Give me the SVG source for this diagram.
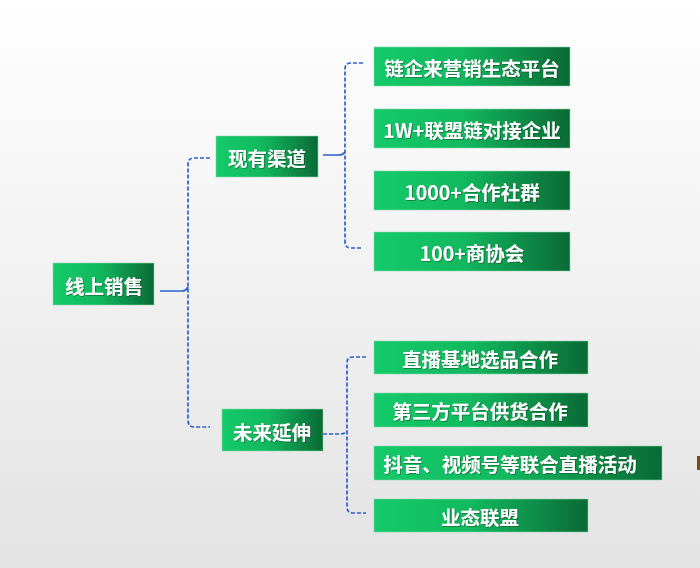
<svg xmlns="http://www.w3.org/2000/svg" width="700" height="568" viewBox="0 0 700 568">
<defs>
<linearGradient id="bg" x1="0" y1="0" x2="0" y2="1">
<stop offset="0" stop-color="#ffffff"/>
<stop offset="1" stop-color="#e3e3e3"/>
</linearGradient>
<linearGradient id="box" x1="0" y1="0" x2="1" y2="0">
<stop offset="0" stop-color="#14ca6a"/>
<stop offset="0.45" stop-color="#12b95f"/>
<stop offset="1" stop-color="#0a6a35"/>
</linearGradient>
<filter id="ts" x="-10%" y="-20%" width="120%" height="140%">
<feDropShadow dx="0.8" dy="0.8" stdDeviation="0.5" flood-color="#0a3a1e" flood-opacity="0.6"/>
</filter>
</defs>
<style>
.b{fill:url(#box);stroke:#8ad9ad;stroke-width:0.8;stroke-opacity:0.7}
.t{fill:#ffffff;font-family:"Noto Sans CJK SC","Noto Sans",sans-serif;font-weight:bold;font-size:19.5px;text-anchor:middle;dominant-baseline:central;filter:url(#ts)}
.c{fill:none;stroke:#2a5fd0;stroke-width:1.7}
.d{stroke-dasharray:4,2}
</style>
<rect width="700" height="568" fill="url(#bg)"/>
<g id="connectors">
<path class="c" d="M160,291 H182 Q186,291 188,287"/>
<path class="c d" d="M210,158 H194 Q188,158 188,164 V420 Q188,427 194,427 H210"/>
<path class="c" d="M323,155 H339 Q343,155 345,152"/>
<path class="c d" d="M363,63 H351 Q345,63 345,69 V242 Q345,248 351,248 H363"/>
<path class="c d" d="M323,434 H341 Q345,434 347,431"/>
<path class="c d" d="M366,357 H353 Q347,357 347,363 V507 Q347,513 353,513 H366"/>
</g>
<g id="root"><rect class="b" x="53" y="263" width="101" height="42"/><text class="t" x="104" y="285">线上销售</text></g>
<g id="existing"><rect class="b" x="216" y="136" width="102" height="41"/><text class="t" x="267" y="157">现有渠道</text></g>
<g id="future"><rect class="b" x="222" y="409" width="101" height="42"/><text class="t" x="272" y="431">未来延伸</text></g>
<g id="e1"><rect class="b" x="374" y="47" width="196" height="39"/><text class="t" x="472" y="67">链企来营销生态平台</text></g>
<g id="e2"><rect class="b" x="374" y="109" width="196" height="39"/><text class="t" x="472" y="129">1W+联盟链对接企业</text></g>
<g id="e3"><rect class="b" x="374" y="171" width="196" height="39"/><text class="t" x="472" y="191">1000+合作社群</text></g>
<g id="e4"><rect class="b" x="374" y="232" width="196" height="39"/><text class="t" x="472" y="252">100+商协会</text></g>
<g id="f1"><rect class="b" x="374" y="341" width="214" height="33"/><text class="t" x="480" y="358">直播基地选品合作</text></g>
<g id="f2"><rect class="b" x="374" y="393" width="214" height="34"/><text class="t" x="480" y="410">第三方平台供货合作</text></g>
<g id="f3"><rect class="b" x="374" y="446" width="288" height="34"/><text class="t" x="510" y="463">抖音、视频号等联合直播活动</text></g>
<g id="f4"><rect class="b" x="374" y="499" width="214" height="33"/><text class="t" x="480" y="516">业态联盟</text></g>
<rect x="697" y="456" width="3" height="14" fill="#7a4a1a"/>
</svg>
